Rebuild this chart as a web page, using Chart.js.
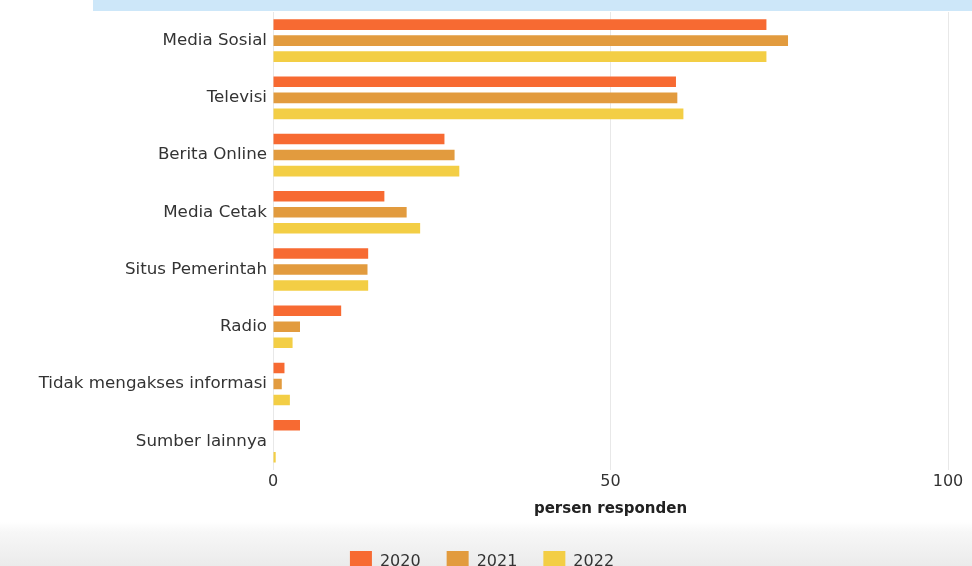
<!DOCTYPE html>
<html>
<head>
<meta charset="utf-8">
<script src="https://cdn.jsdelivr.net/npm/chart.js@4"></script>
<style>
  html, body { margin: 0; padding: 0; overflow: hidden; }
  body {
    width: 972px; height: 566px;
    background: linear-gradient(to bottom, #fff 0, #fff 522px, #f7f7f7 532px, #ebebeb 566px);
    position: relative;
  }
  #band { position: absolute; top: 0; left: 93px; right: 0; height: 11px; background: #cde7f9; z-index: 2; }
  #chart { position: absolute; top: -4px; left: 0; }
</style>
</head>
<body>
<div id="band"></div>
<canvas id="chart" width="972" height="587"></canvas>
<script>
"use strict";
const categories = ["Media Sosial", "Televisi", "Berita Online", "Media Cetak", "Situs Pemerintah", "Radio", "Tidak mengakses informasi", "Sumber lainnya"];
const years = ["2020", "2021", "2022"];
const values2020 = [73.1, 59.7, 25.4, 16.5, 14.1, 10.1, 1.7, 4.0];
const values2021 = [76.3, 59.9, 26.9, 19.8, 14.0, 4.0, 1.3, 0];
const values2022 = [73.1, 60.8, 27.6, 21.8, 14.1, 2.9, 2.5, 0.4];
const xTicks = [0, 50, 100];
const colors = ["#f76a32", "#e29b3e", "#f3ce45"];

const font = "'DejaVu Sans', sans-serif";
const series = [values2020, values2021, values2022];

let ctx = document.getElementById("chart").getContext("2d");
const myChart = new Chart(ctx, {
  type: "bar",
  data: {
    labels: categories,
    datasets: series.map((vals, i) => ({
      label: years[i],
      data: vals,
      backgroundColor: colors[i],
      barPercentage: 0.66,
      categoryPercentage: 0.84,
    })),
  },
  options: {
    indexAxis: "y",
    responsive: false,
    animation: false,
    layout: {
      padding: { top: 8, left: 16, right: 24, bottom: 0 },
    },
    scales: {
      x: {
        min: 0,
        max: 100,
        afterBuildTicks: (scale) => {
          scale.ticks = xTicks.map((v) => ({ value: v }));
        },
        grid: { color: "#e8e8e8", drawTicks: false },
        border: { display: false },
        ticks: { color: "#333", padding: 2, font: { family: font, size: 16 } },
        title: {
          display: true,
          text: "persen responden",
          color: "#222",
          font: { family: font, size: 15, weight: "bold" },
          padding: { top: 7, bottom: 7 },
        },
      },
      y: {
        afterFit: (scale) => {
          scale.width = 257;
        },
        grid: { display: false, drawTicks: false },
        border: { color: "#e8e8e8" },
        ticks: { color: "#333", padding: 6, font: { family: font, size: 16.7 } },
      },
    },
    plugins: {
      legend: {
        position: "bottom",
        labels: {
          boxWidth: 22,
          boxHeight: 22,
          padding: 26,
          color: "#333",
          font: { family: font, size: 16 },
        },
      },
      tooltip: { enabled: false },
    },
  },
});
</script>
</body>
</html>
